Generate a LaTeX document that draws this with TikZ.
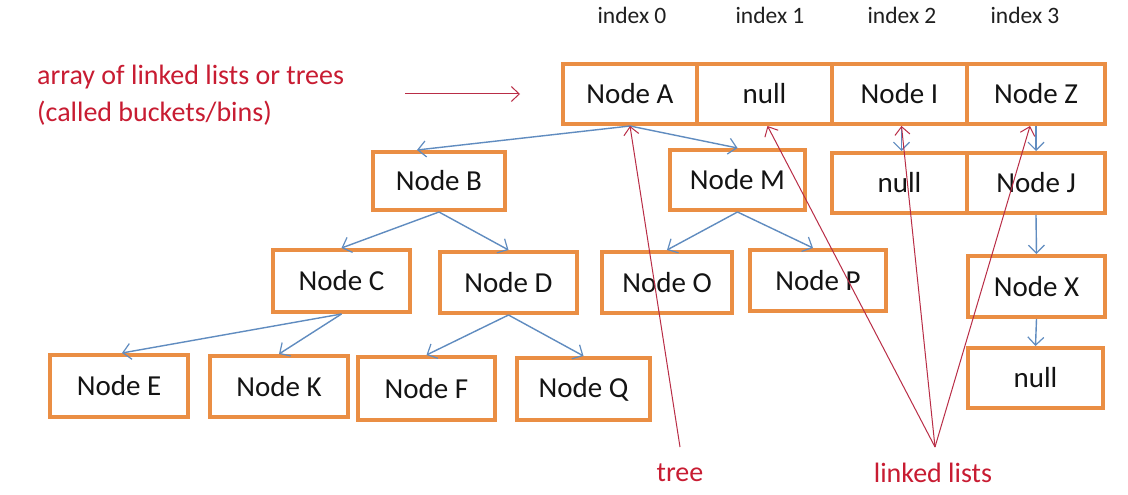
\documentclass[tikz,border=0pt]{standalone}
\usepackage{fontspec}
\setmainfont{Carlito}
\usetikzlibrary{arrows.meta,calc}
\definecolor{boxor}{RGB}{234,142,68}
\definecolor{arrblue}{RGB}{96,140,192}
\definecolor{redline}{RGB}{185,45,70}
\definecolor{redtext}{RGB}{200,28,50}
\tikzset{
  cell/.style={draw=boxor, line width=4pt, fill=white, inner sep=0pt,
    font=\fontsize{29}{31}\selectfont, text=black!92},
  blarrow/.style={draw=arrblue, line width=1.4pt, -{Straight Barb[length=8pt,width=16pt,line width=1.2pt]}},
  rdarrow/.style={draw=redline, line width=1pt, -{Straight Barb[length=8pt,width=15pt,line width=1pt]}},
  idx/.style={font=\fontsize{23.5}{25}\selectfont, text=black!88},
  redlab/.style={font=\fontsize{28}{37}\selectfont, text=redtext, inner sep=0pt}
}
\begin{document}
\begin{tikzpicture}[x=1pt,y=-1pt]
\useasboundingbox (0,0) rectangle (1128,495);
\fill[white] (0,0) rectangle (1128,495);
% index labels
\node[idx] (i0) at (632,15) {index 0};
\node[idx] (i1) at (770,15) {index 1};
\node[idx] (i2) at (902,15) {index 2};
\node[idx] (i3) at (1025,15) {index 3};
% array
\node[cell, minimum width=134pt, minimum height=60pt] (A) at (630,94) {Node A};
\node[cell, minimum width=135pt, minimum height=60pt] (N1) at (764.5,94) {null};
\node[cell, minimum width=135pt, minimum height=60pt] (I) at (899.5,94) {Node I};
\node[cell, minimum width=138pt, minimum height=60pt] (Z) at (1036,94) {Node Z};
% row 2
\node[cell, minimum width=132pt, minimum height=58pt] (B) at (439,181) {Node B};
\node[cell, minimum width=135pt, minimum height=60pt] (M) at (737.5,180) {Node M};
\node[cell, minimum width=135pt, minimum height=60pt] (N2) at (899.5,183) {null};
\node[cell, minimum width=138pt, minimum height=60pt] (J) at (1036,183) {Node J};
% row 3
\node[cell, minimum width=137pt, minimum height=62pt] (C) at (341.5,281) {Node C};
\node[cell, minimum width=137pt, minimum height=61pt] (D) at (508.5,282.5) {Node D};
\node[cell, minimum width=130pt, minimum height=61pt] (O) at (667,282.5) {Node O};
\node[cell, minimum width=136pt, minimum height=61pt] (P) at (818,280.5) {Node P};
\node[cell, minimum width=137pt, minimum height=61pt] (X) at (1036.5,286.5) {Node X};
% row 4
\node[cell, minimum width=138pt, minimum height=62pt] (E) at (119,386) {Node E};
\node[cell, minimum width=138pt, minimum height=61pt] (K) at (279,386.5) {Node K};
\node[cell, minimum width=137pt, minimum height=63pt] (F) at (426.5,388.5) {Node F};
\node[cell, minimum width=133pt, minimum height=62pt] (Q) at (583.5,389) {Node Q};
\node[cell, minimum width=135pt, minimum height=60pt] (N3) at (1035.5,378) {null};
% blue arrows
\draw[blarrow] (A.south) -- ([xshift=-22pt]B.north);
\draw[blarrow] (A.south) -- (M.north);
\draw[blarrow] (B.south) -- (C.north);
\draw[blarrow] (B.south) -- (D.north);
\draw[blarrow] (M.south) -- (O.north);
\draw[blarrow] (M.south) -- ([xshift=-5pt]P.north);
\draw[blarrow] (C.south) -- ([xshift=3pt]E.north);
\draw[blarrow] (C.south) -- (K.north);
\draw[blarrow] (D.south) -- (F.north);
\draw[blarrow] (D.south) -- (Q.north);
\draw[blarrow] ([xshift=2pt]I.south) -- ([xshift=2pt]N2.north);
\draw[blarrow] (Z.south) -- (J.north);
\draw[blarrow] (J.south) -- (X.north);
\draw[blarrow] (X.south) -- (N3.north);
% red labels
\node[redlab, anchor=north west, align=left] (lab) at (37,65) {array of linked lists or trees\\(called buckets/bins)};
\coordinate (labA) at (405,94);
\coordinate (labB) at (520,94);
\draw[rdarrow] (labA) -- (labB);
\node[redlab] (tree) at (680,473) {tree};
\node[redlab] (ll) at (933,473) {linked lists};
\coordinate (treetip) at (680,447);
\coordinate (lltip) at (935,447);
\draw[rdarrow] (treetip) -- (A.south);
\draw[rdarrow] (lltip) -- ([xshift=3pt]N1.south);
\draw[rdarrow] (lltip) -- ([xshift=2pt]I.south);
\draw[rdarrow] (lltip) -- ([xshift=-6pt]Z.south);
\end{tikzpicture}
\end{document}
